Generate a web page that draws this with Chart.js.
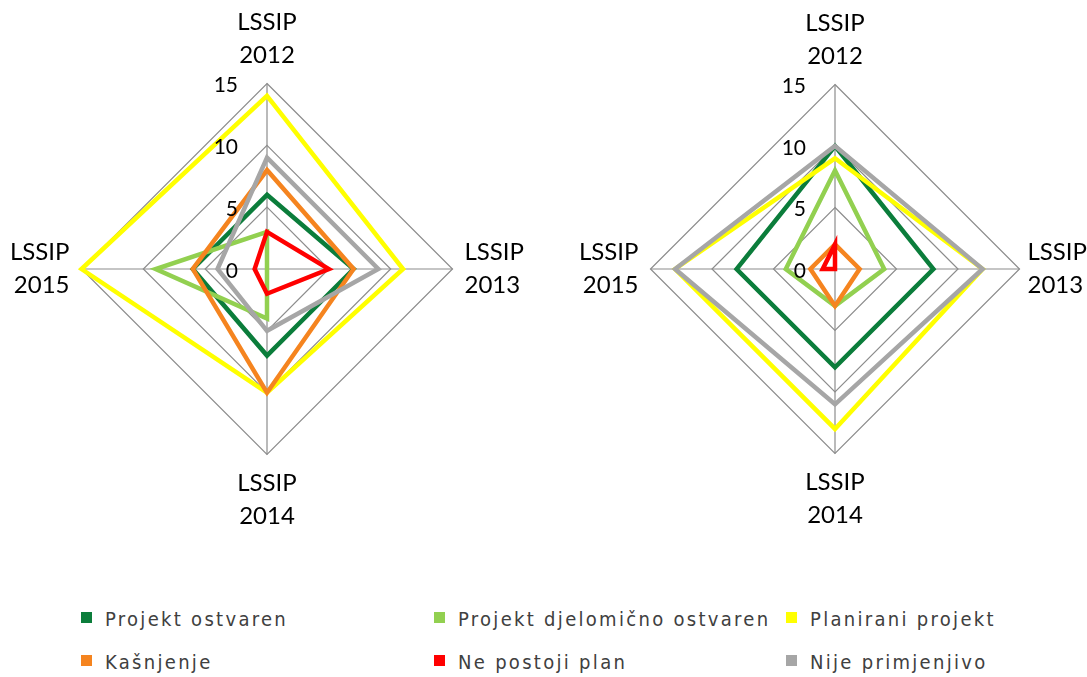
<!DOCTYPE html>
<html>
<head>
<meta charset="utf-8">
<script src="https://cdn.jsdelivr.net/npm/chart.js@4"></script>
<style>
  body { margin: 0; background: #fff; width: 1087px; height: 677px; position: relative; overflow: hidden; }
  canvas { position: absolute; }
  #legend { position: absolute; left: 0; top: 0; }
  .item { position: absolute; font-family: "DejaVu Sans Condensed", "DejaVu Sans"; font-size: 20px; letter-spacing: 2.3px; color: #404040; white-space: nowrap; line-height: 20px; }
  .box { position: absolute; width: 11px; height: 11px; left: -24px; top: 3px; }
</style>
</head>
<body>
<canvas id="left" width="514" height="540" style="left:10px;top:0"></canvas>
<canvas id="right" width="512" height="540" style="left:577px;top:0"></canvas>
<div id="legend"></div>
<script>
const CATEGORIES = [['LSSIP', '2012'], ['LSSIP', '2013'], ['LSSIP', '2014'], ['LSSIP', '2015']];
const SERIES = ['Projekt ostvaren', 'Projekt djelomično ostvaren', 'Planirani projekt', 'Kašnjenje', 'Ne postoji plan', 'Nije primjenjivo'];
const COLORS = ['#0b7d3b', '#92d050', '#ffff00', '#f5841f', '#ff0000', '#a6a6a6'];

// left chart
const leftOstvaren = [6, 7, 7, 6];
const leftDjelomicno = [3, 0, 4, 9];
const leftPlanirani = [14, 11, 10, 15];
const leftKasnjenje = [8, 7, 10, 6];
const leftNePostoji = [3, 5, 2, 1];
const leftNije = [9, 9, 5, 4];

// right chart
const rightOstvaren = [10, 8, 8, 8];
const rightDjelomicno = [8, 4, 3, 4];
const rightPlanirani = [9, 12, 13, 13];
const rightKasnjenje = [2, 2, 3, 2];
const rightNePostoji = [2, 0, 0, 1];
const rightNije = [10, 12, 11, 13];

const SCALE_TICKS = [0, 5, 10, 15];

// tick numbers sit left of the vertical axis, like in Excel
const tickLabels = {
    id: 'tickLabels',
    afterDatasetsDraw(chart){
        const s = chart.scales.r;
        const ctx = chart.ctx;
        ctx.save();
        ctx.font = '21px Lato';
        ctx.fillStyle = '#000';
        ctx.textAlign = 'right';
        ctx.textBaseline = 'middle';
        SCALE_TICKS.forEach(v => {
            const d = s.getDistanceFromCenterForValue(v);
            ctx.fillText(String(v), s.xCenter - 29, s.yCenter - d + 2);
        });
        ctx.restore();
    }
};

function chartRadar(id, seriesData, labelPadding){
    const ctx = document.getElementById(id).getContext('2d');
    new Chart(ctx, {
        type: 'radar',
        data: {
            labels: CATEGORIES,
            datasets: seriesData.map((d, i) => ({
                label: SERIES[i],
                data: d,
                borderColor: COLORS[i],
                backgroundColor: COLORS[i],
                borderWidth: 4.5,
                borderJoinStyle: 'miter',
                fill: false,
                pointRadius: 0,
                order: SERIES.length - i
            }))
        },
        options: {
            responsive: false,
            animation: false,
            plugins: { legend: { display: false }, tooltip: { enabled: false } },
            scales: {
                r: {
                    min: 0,
                    max: 15,
                    ticks: { stepSize: 5, display: false },
                    grid: { color: '#8c8c8c', lineWidth: 1.2 },
                    angleLines: { color: '#8c8c8c', lineWidth: 1.2 },
                    pointLabels: {
                        color: '#000',
                        padding: c => labelPadding[c.index],
                        font: { family: 'Lato', size: 24, lineHeight: 1.38 }
                    }
                }
            }
        },
        plugins: [tickLabels]
    });
}

chartRadar('left', [leftOstvaren, leftDjelomicno, leftPlanirani, leftKasnjenje, leftNePostoji, leftNije], [12, 12, 12, 12]);
chartRadar('right', [rightOstvaren, rightDjelomicno, rightPlanirani, rightKasnjenje, rightNePostoji, rightNije], [12, 8, 12, 12]);

// legend, 3 columns x 2 rows
const LEGEND_X = [105, 458, 810];
const LEGEND_Y = [609, 652];
const legend = document.getElementById('legend');
SERIES.forEach((name, i) => {
    const el = document.createElement('div');
    el.className = 'item';
    el.style.left = LEGEND_X[i % 3] + 'px';
    el.style.top = LEGEND_Y[Math.floor(i / 3)] + 'px';
    el.innerHTML = '<span class="box" style="background:' + COLORS[i] + '"></span>' + name;
    legend.appendChild(el);
});
</script>
</body>
</html>
